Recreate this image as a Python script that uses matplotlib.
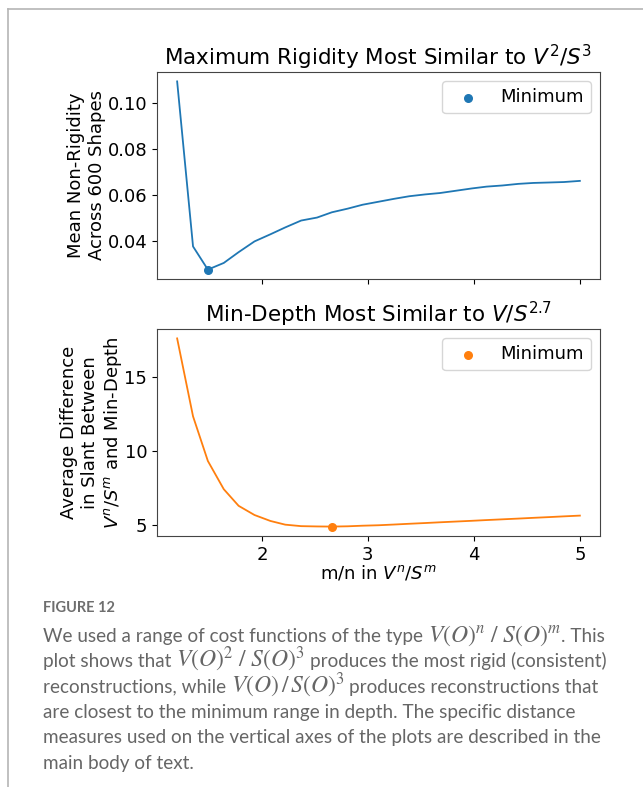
import matplotlib.pyplot as plt
import numpy as np
from matplotlib.lines import Line2D

# m/n exponent ratio tested for the cost V^n / S^m
m_over_n = [1.20, 1.35, 1.49, 1.64, 1.78, 1.93, 2.08, 2.22, 2.37, 2.52, 2.66,
            2.81, 2.95, 3.10, 3.25, 3.39, 3.54, 3.68, 3.83, 3.98, 4.12, 4.27,
            4.42, 4.56, 4.71, 4.85, 5.00]

# mean non-rigidity across 600 shapes
rigidity = [0.1095, 0.0375, 0.0274, 0.0303, 0.0350, 0.0397, 0.0428, 0.0458,
            0.0488, 0.0501, 0.0524, 0.0540, 0.0557, 0.0570, 0.0583, 0.0594,
            0.0602, 0.0608, 0.0618, 0.0628, 0.0636, 0.0641, 0.0648, 0.0652,
            0.0654, 0.0656, 0.0661]

# average slant difference against min-depth
slant_diff = [17.59, 12.34, 9.33, 7.43, 6.31, 5.69, 5.29, 5.04, 4.94, 4.92,
              4.91, 4.93, 4.97, 5.00, 5.05, 5.10, 5.15, 5.20, 5.25, 5.30,
              5.35, 5.40, 5.45, 5.50, 5.55, 5.60, 5.65]

# caption, split into plain and formula pieces
caption_lines = [
    ["We used a range of cost functions of the type ", r"$V(O)^n\ /\ S(O)^m$", ". This"],
    ["plot shows that ", r"$V(O)^2\ /\ S(O)^3$", " produces the most rigid (consistent)"],
    ["reconstructions, while ", r"$V(O)\,/\,S(O)^3$", " produces reconstructions that"],
    ["are closest to the minimum range in depth. The specific distance"],
    ["measures used on the vertical axes of the plots are described in the"],
    ["main body of text."],
]

W, H = 643, 787
fig = plt.figure(figsize=(W / 100, H / 100), dpi=100)

FS = 13


def panel(rect, y, color, title, ylabel, yticks, labelpad):
    ax = fig.add_axes(rect)
    ax.plot(m_over_n, y, color=color, lw=1.3)
    i = int(np.argmin(y))
    ax.scatter([m_over_n[i]], [y[i]], color=color, s=30, zorder=3, label="Minimum")
    ax.set_title(title, fontsize=15.5, pad=5)
    ax.set_ylabel(ylabel, fontsize=FS, labelpad=labelpad)
    ax.set_xticks([2, 3, 4, 5])
    ax.set_yticks(yticks)
    ax.tick_params(labelsize=FS, length=3.5)
    ax.legend(loc="upper right", fontsize=FS)
    for s in ax.spines.values():
        s.set_color("#444444")
    return ax


ax1 = panel([157 / W, 1 - 279 / H, 443 / W, 207 / H], rigidity, "#1f77b4",
            r"Maximum Rigidity Most Similar to $V^2/S^3$",
            "Mean Non-Rigidity\nAcross 600 Shapes", [0.04, 0.06, 0.08, 0.10], 1)
ax1.set_xticklabels([])
ax1.yaxis.set_major_formatter(plt.FormatStrFormatter("%.2f"))

ax2 = panel([157 / W, 1 - 536 / H, 443 / W, 207 / H], slant_diff, "#ff7f0e",
            r"Min-Depth Most Similar to $V/S^{2.7}$",
            "Average Difference\nin Slant Between\n$V^n/S^m$ and Min-Depth",
            [5, 10, 15], 0.5)
ax2.set_xlabel("m/n in $V^n/S^m$", fontsize=FS, labelpad=0)

# page frame
fig.add_artist(Line2D([8 / W, 1], [1 - 9 / H, 1 - 9 / H], transform=fig.transFigure,
                      color="#b5b5b5", lw=1.2))
fig.add_artist(Line2D([8 / W, 8 / W], [0, 1 - 9 / H], transform=fig.transFigure,
                      color="#b5b5b5", lw=1.2))

# caption
fig.text(43 / W, 1 - 608 / H, "FIGURE 12", fontsize=10.5, family="Lato",
         weight="bold", color="#6e6e6e", va="center")

renderer = fig.canvas.get_renderer()
probe = fig.text(0, 0, "a a", fontsize=13.6, family="Lato")
probe2 = fig.text(0, 0, "aa", fontsize=13.6, family="Lato")
space_w = (probe.get_window_extent(renderer).width
           - probe2.get_window_extent(renderer).width)
probe.remove()
probe2.remove()

for k, pieces in enumerate(caption_lines):
    base = 1 - (642 + 25.3 * k) / H
    x = 43.0
    for piece in pieces:
        is_math = piece.startswith("$")
        lead = len(piece) - len(piece.lstrip(" "))
        x += lead * space_w
        t = fig.text(x / W, base, piece.strip(" "), va="baseline",
                     fontsize=17 if is_math else 13.6, family="Lato",
                     color="#666666", math_fontfamily="stix")
        x += t.get_window_extent(renderer).width
        x += (len(piece) - len(piece.rstrip(" "))) * space_w

fig.savefig("out.png", dpi=100)
